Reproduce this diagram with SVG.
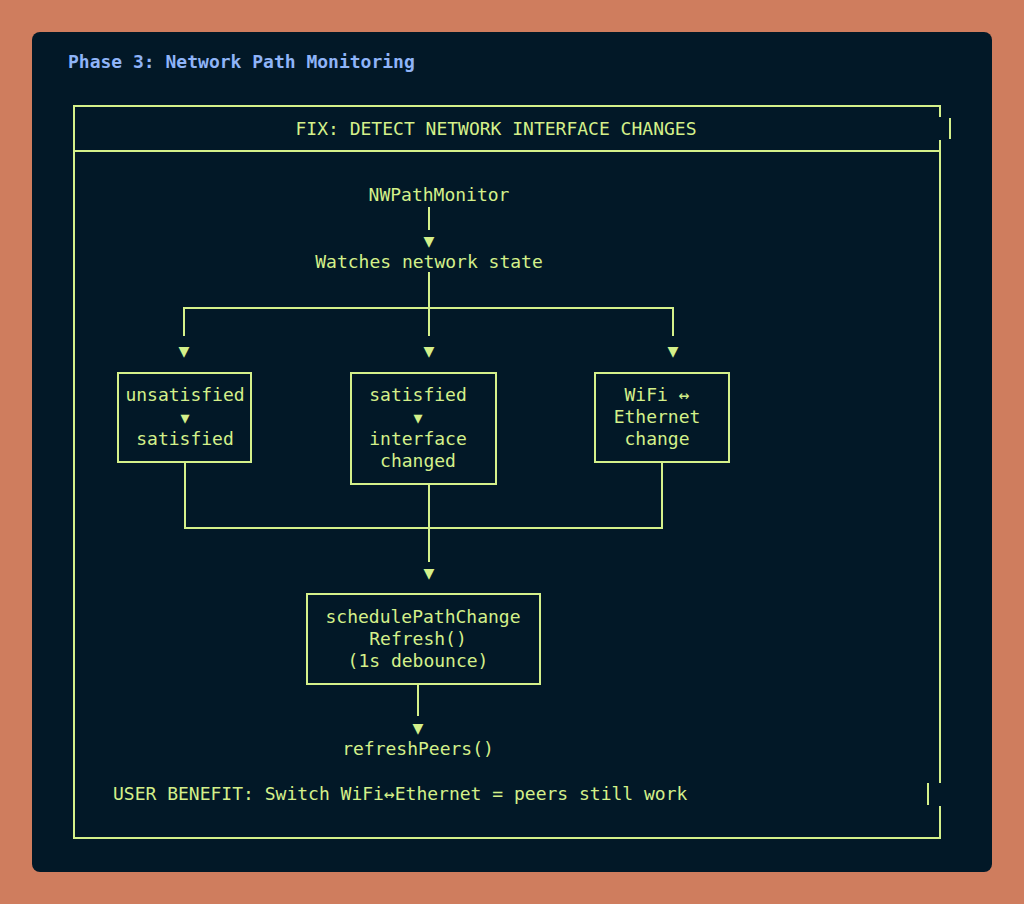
<svg xmlns="http://www.w3.org/2000/svg" width="1024" height="904" viewBox="0 0 1024 904">
<style>
text{font-family:"DejaVu Sans Mono",monospace;font-size:18px;fill:#d4f08a}
.c{text-anchor:middle}
.l{stroke:#d4f08a;stroke-width:2;fill:none}
.a{font-size:15px}
</style>
<rect width="1024" height="904" fill="#cf7d5e"/>
<rect x="32" y="32" width="960" height="840" rx="8" fill="#021827"/>
<text x="68" y="68" style="fill:#8fb4f8;font-weight:bold">Phase 3: Network Path Monitoring</text>
<g id="frame" class="l">
<path d="M940 117V106H74V838H940V806"/>
<path d="M74 151H940"/>
<path d="M940 140V783"/>
<path d="M950 118V139M928 783V805"/>
</g>
<text id="header" x="496" y="135" class="c">FIX: DETECT NETWORK INTERFACE CHANGES</text>
<g id="connectors" class="l">
<path d="M429 207V230"/>
<path d="M429 272V336M184 336V308H673V336"/>
<path d="M185 462V528H662V462M429 484V562"/>
<path d="M418 684V716"/>
</g>
<g id="arrows" class="a">
<text x="429" y="247" class="c">▼</text>
<text x="184" y="357" class="c">▼</text>
<text x="429" y="357" class="c">▼</text>
<text x="673" y="357" class="c">▼</text>
<text x="429" y="579" class="c">▼</text>
<text x="418" y="734" class="c">▼</text>
</g>
<g id="n1"><text x="439" y="201" class="c">NWPathMonitor</text></g>
<g id="n2"><text x="429" y="268" class="c">Watches network state</text></g>
<g id="n3"><rect x="118" y="373" width="133" height="89" class="l"/>
<text x="185" y="401" class="c">unsatisfied</text><text x="185" y="423" class="c a">▼</text><text x="185" y="445" class="c">satisfied</text></g>
<g id="n4"><rect x="351" y="373" width="145" height="111" class="l"/>
<text x="418" y="401" class="c">satisfied</text><text x="418" y="423" class="c a">▼</text><text x="418" y="445" class="c">interface</text><text x="418" y="467" class="c">changed</text></g>
<g id="n5"><rect x="595" y="373" width="134" height="89" class="l"/>
<text x="657" y="401" class="c">WiFi ↔</text><text x="657" y="423" class="c">Ethernet</text><text x="657" y="445" class="c">change</text></g>
<g id="n6"><rect x="307" y="594" width="233" height="90" class="l"/>
<text x="423" y="623" class="c">schedulePathChange</text><text x="418" y="645" class="c">Refresh()</text><text x="418" y="667" class="c">(1s debounce)</text></g>
<g id="n7"><text x="418" y="755" class="c">refreshPeers()</text></g>
<text x="113" y="800">USER BENEFIT: Switch WiFi↔Ethernet = peers still work</text>
</svg>
